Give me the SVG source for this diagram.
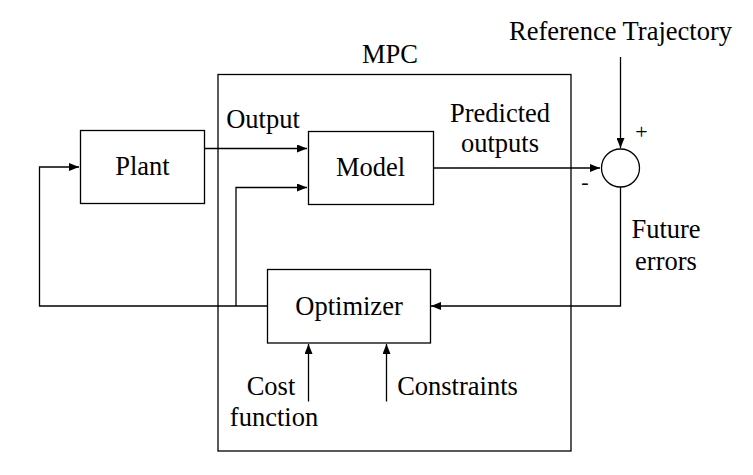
<svg xmlns="http://www.w3.org/2000/svg" width="753" height="475" viewBox="0 0 753 475">
<style>
.box{fill:#fff;stroke:#000;stroke-width:1.3}
.ln{fill:none;stroke:#000;stroke-width:1.3}
</style>
<defs>
<marker id="ah" markerWidth="10" markerHeight="8" refX="10" refY="4" orient="auto" markerUnits="userSpaceOnUse">
<path d="M0,0 L10,4 L0,8 Z" fill="#000"/>
</marker>
</defs>
<rect width="753" height="475" fill="#fff"/>
<g font-family="'Liberation Serif', 'Times New Roman', serif" font-size="26.5" text-anchor="middle">
<g id="mpc"><rect class="box" x="218" y="74.5" width="353" height="376.5"/><text x="390" y="63">MPC</text></g>
<g id="connectors">
<path class="ln" d="M204,148.5 H307" marker-end="url(#ah)"/>
<path class="ln" d="M236,306 V187.5 H307" marker-end="url(#ah)"/>
<path class="ln" d="M267,306 H39.5 V167 H79" marker-end="url(#ah)"/>
<path class="ln" d="M433,168 H600" marker-end="url(#ah)"/>
<path class="ln" d="M620.5,57 V148" marker-end="url(#ah)"/>
<path class="ln" d="M620.5,187 V306 H431" marker-end="url(#ah)"/>
<path class="ln" d="M308.5,401.5 V344" marker-end="url(#ah)"/>
<path class="ln" d="M386.5,401.5 V344" marker-end="url(#ah)"/>
</g>
<g id="plant"><rect class="box" x="80.5" y="130.5" width="124" height="73"/><text x="142.5" y="174.5">Plant</text></g>
<g id="model"><rect class="box" x="308.5" y="131.5" width="125" height="73"/><text x="370.5" y="176">Model</text></g>
<g id="optimizer"><rect class="box" x="267.5" y="269.5" width="163" height="73.5"/><text x="349" y="315">Optimizer</text></g>
<g id="sum"><circle class="box" cx="620.5" cy="168" r="19"/><text x="641.5" y="139" font-size="22">+</text><text x="585" y="189" font-size="22">-</text></g>
<g id="labels">
<text x="620.5" y="40">Reference Trajectory</text>
<text x="263" y="128">Output</text>
<text x="500" y="122">Predicted</text>
<text x="500" y="152">outputs</text>
<text x="666" y="238">Future</text>
<text x="666" y="270">errors</text>
<text x="271" y="395">Cost</text>
<text x="274" y="426">function</text>
<text x="457.5" y="395">Constraints</text>
</g>
</g>
</svg>
